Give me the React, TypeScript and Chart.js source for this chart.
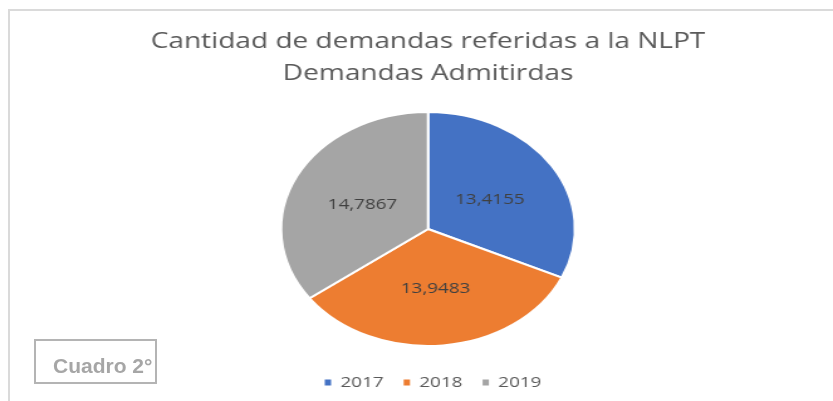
import { useEffect, useRef } from "react";
import { Chart, registerables } from "chart.js";

Chart.register(...registerables);

const categories = ["2017", "2018", "2019"];
const values = [13.4155, 13.9483, 14.7867];
const colors = ["#4472C4", "#ED7D31", "#A5A5A5"];
const titleLines = ["Cantidad de demandas referidas a la NLPT", "Demandas Admitirdas"];
const boxLabel = "Cuadro 2°";

const STRETCH = 1.2564;
const BASE_W = 663;
const BASE_H = 401;

const fmt = (v: number) => v.toFixed(4).replace(".", ",");

const labelPlugin = {
  id: "sliceLabels",
  afterLayout(chart: any) {
    if (chart.legend) {
      chart.legend.left += 4;
      chart.legend.right += 4;
    }
  },
  afterDatasetsDraw(chart: any) {
    const ctx = chart.ctx;
    const meta = chart.getDatasetMeta(0);
    ctx.save();
    ctx.font = '15px "Open Sans"';
    ctx.fillStyle = "#404040";
    ctx.textAlign = "center";
    ctx.textBaseline = "middle";
    meta.data.forEach((arc: any, i: number) => {
      const p = arc.tooltipPosition(false);
      ctx.fillText(fmt(values[i]), p.x, p.y + 2);
    });
    ctx.restore();
  },
};

export default function App() {
  const ref = useRef<HTMLCanvasElement | null>(null);

  useEffect(() => {
    if (!ref.current) return;
    const chart = new Chart(ref.current, {
      type: "pie",
      data: {
        labels: categories,
        datasets: [
          {
            data: values,
            backgroundColor: colors,
            borderColor: "#ffffff",
            borderWidth: 2,
            radius: 117,
          } as any,
        ],
      },
      options: {
        responsive: false,
        animation: false,
        layout: { padding: { left: 18.4, top: 0, right: 0, bottom: 1 } },
        plugins: {
          tooltip: { enabled: false },
          title: {
            display: true,
            text: titleLines,
            color: "#595959",
            font: { family: "Open Sans", size: 22.3, weight: "normal", lineHeight: "32px" } as any,
            padding: { top: 25.5, bottom: 9.5 },
          },
          legend: {
            position: "bottom",
            labels: {
              boxWidth: 5,
              boxHeight: 6,
              padding: 16,
              color: "#595959",
              font: { family: "Open Sans", size: 15 },
              generateLabels: (c: any) =>
                (Chart as any).overrides.pie.plugins.legend.labels
                  .generateLabels(c)
                  .map((l: any) => ({ ...l, lineWidth: 0 })),
            },
          },
        },
      },
      plugins: [labelPlugin],
    });
    return () => chart.destroy();
  }, []);

  return (
    <div>
      <div
        style={{
          position: "fixed",
          left: 0,
          top: 0,
          width: 833,
          height: 401,
          background: "#ffffff",
        }}
      />
      <div
        style={{
          position: "fixed",
          left: 8,
          top: 9,
          width: 900,
          height: 500,
          borderTop: "2px solid #dadada",
          borderLeft: "2px solid #dadada",
        }}
      />
      <canvas
        ref={ref}
        width={BASE_W}
        height={BASE_H}
        style={{
          position: "fixed",
          left: 0,
          top: 0,
          width: BASE_W,
          height: BASE_H,
          transform: `scaleX(${STRETCH})`,
          transformOrigin: "0 0",
        }}
      />
      <div
        style={{
          position: "fixed",
          left: 34,
          top: 339,
          width: 119,
          height: 41,
          border: "2px solid #b4b4b4",
          boxSizing: "content-box",
        }}
      >
        <div
          style={{
            position: "absolute",
            left: 17,
            top: 13,
            fontFamily: '"Liberation Sans", Arial, sans-serif',
            fontWeight: "bold",
            fontSize: 21,
            lineHeight: "24px",
            color: "#a6a6a6",
            whiteSpace: "nowrap",
          }}
        >
          {boxLabel}
        </div>
      </div>
    </div>
  );
}
